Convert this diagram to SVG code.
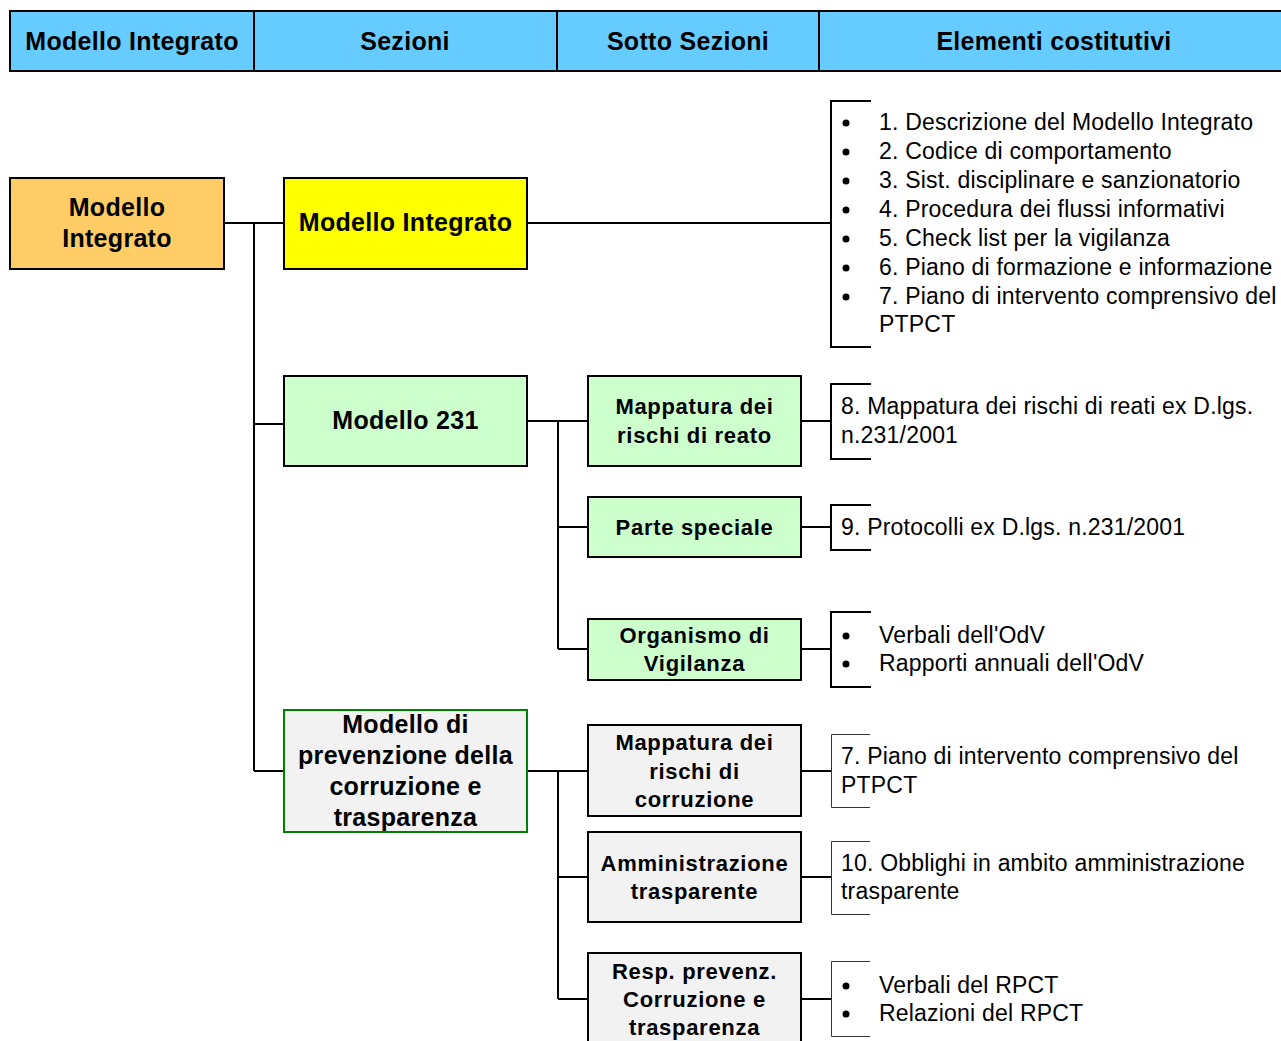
<svg xmlns="http://www.w3.org/2000/svg" width="1281" height="1041" viewBox="0 0 1281 1041">
<style>
.hd{fill:#66CCFF;stroke:#000;stroke-width:2}
.ht{font-family:"Liberation Sans",Arial,sans-serif;font-weight:bold;font-size:25px;letter-spacing:0.3px;text-anchor:middle;fill:#000}
.bx{stroke:#000;stroke-width:2}
.t1{font-family:"Liberation Sans",Arial,sans-serif;font-weight:bold;font-size:25px;letter-spacing:0.3px;text-anchor:middle;fill:#000}
.t2{font-family:"Liberation Sans",Arial,sans-serif;font-weight:bold;font-size:22px;letter-spacing:0.7px;text-anchor:middle;fill:#000}
.el{font-family:"Liberation Sans",Arial,sans-serif;font-size:23px;letter-spacing:0.2px;fill:#000}
.cn{fill:none;stroke:#000;stroke-width:2}
.br{fill:none;stroke:#000;stroke-width:2}
.bt{fill:none;stroke:#333;stroke-width:1}
</style>
<rect width="1281" height="1041" fill="#fff"/>
<g id="header">
<rect class="hd" x="10" y="11" width="244" height="60"/>
<rect class="hd" x="254" y="11" width="303" height="60"/>
<rect class="hd" x="557" y="11" width="262" height="60"/>
<rect class="hd" x="819" y="11" width="480" height="60"/>
<text class="ht" x="132" y="50">Modello Integrato</text>
<text class="ht" x="405" y="50">Sezioni</text>
<text class="ht" x="688" y="50">Sotto Sezioni</text>
<text class="ht" x="1054" y="50">Elementi costitutivi</text>
</g>
<g id="connectors">
<path class="cn" d="M224 223H284M254 223V771M254 424H284M254 771H284"/>
<path class="cn" d="M527 223H831"/>
<path class="cn" d="M527 421H588M558 421V649M558 527H588M558 649H588"/>
<path class="cn" d="M527 771H588M558 771V999M558 877H588M558 999H588"/>
<path class="cn" d="M801 421H831M801 527H831M801 649H831M801 771H831M801 877H831M801 999H831"/>
</g>
<g id="root">
<rect class="bx" x="10" y="178" width="214" height="91" fill="#FFCC66"/>
<text class="t1" x="117" y="216">Modello</text>
<text class="t1" x="117" y="247">Integrato</text>
</g>
<g id="sez-integrato">
<rect class="bx" x="284" y="178" width="243" height="91" fill="#FFFF00"/>
<text class="t1" x="405.5" y="231">Modello Integrato</text>
</g>
<g id="sez-231">
<rect class="bx" x="284" y="376" width="243" height="90" fill="#CCFFCC"/>
<text class="t1" x="405.5" y="429">Modello 231</text>
</g>
<g id="sez-prev">
<rect x="284" y="710" width="243" height="122" fill="#F2F2F2" stroke="#008000" stroke-width="2"/>
<text class="t1" x="405.5" y="733">Modello di</text>
<text class="t1" x="405.5" y="764">prevenzione della</text>
<text class="t1" x="405.5" y="795">corruzione e</text>
<text class="t1" x="405.5" y="826">trasparenza</text>
</g>
<g id="sub-mapp-reato">
<rect class="bx" x="588" y="376" width="213" height="90" fill="#CCFFCC"/>
<text class="t2" x="694.5" y="414">Mappatura dei</text>
<text class="t2" x="694.5" y="443">rischi di reato</text>
</g>
<g id="sub-parte-speciale">
<rect class="bx" x="588" y="497" width="213" height="60" fill="#CCFFCC"/>
<text class="t2" x="694.5" y="535">Parte speciale</text>
</g>
<g id="sub-odv">
<rect class="bx" x="588" y="619" width="213" height="61" fill="#CCFFCC"/>
<text class="t2" x="694.5" y="643">Organismo di</text>
<text class="t2" x="694.5" y="671">Vigilanza</text>
</g>
<g id="sub-mapp-corr">
<rect class="bx" x="588" y="725" width="213" height="91" fill="#F2F2F2"/>
<text class="t2" x="694.5" y="750">Mappatura dei</text>
<text class="t2" x="694.5" y="779">rischi di</text>
<text class="t2" x="694.5" y="807">corruzione</text>
</g>
<g id="sub-amm">
<rect class="bx" x="588" y="832" width="213" height="90" fill="#F2F2F2"/>
<text class="t2" x="694.5" y="871">Amministrazione</text>
<text class="t2" x="694.5" y="899">trasparente</text>
</g>
<g id="sub-rpct">
<rect class="bx" x="588" y="953" width="213" height="100" fill="#F2F2F2"/>
<text class="t2" x="694.5" y="979">Resp. prevenz.</text>
<text class="t2" x="694.5" y="1007">Corruzione e</text>
<text class="t2" x="694.5" y="1035">trasparenza</text>
</g>
<g id="el-integrato">
<path class="br" d="M871 101H831V347H871"/>
<g fill="#000"><circle cx="846" cy="123" r="3.5"/><circle cx="846" cy="152" r="3.5"/><circle cx="846" cy="181" r="3.5"/><circle cx="846" cy="210" r="3.5"/><circle cx="846" cy="239" r="3.5"/><circle cx="846" cy="268" r="3.5"/><circle cx="846" cy="297" r="3.5"/></g>
<text class="el" x="879" y="130">1. Descrizione del Modello Integrato</text>
<text class="el" x="879" y="159">2. Codice di comportamento</text>
<text class="el" x="879" y="188">3. Sist. disciplinare e sanzionatorio</text>
<text class="el" x="879" y="217">4. Procedura dei flussi informativi</text>
<text class="el" x="879" y="246">5. Check list per la vigilanza</text>
<text class="el" x="879" y="275">6. Piano di formazione e informazione</text>
<text class="el" x="879" y="304">7. Piano di intervento comprensivo del</text>
<text class="el" x="879" y="332">PTPCT</text>
</g>
<g id="el-8">
<path class="br" d="M871 384H831V459H871"/>
<text class="el" x="841" y="414">8. Mappatura dei rischi di reati ex D.lgs.</text>
<text class="el" x="841" y="443">n.231/2001</text>
</g>
<g id="el-9">
<path class="br" d="M871 505H831V550H871"/>
<text class="el" x="841" y="535">9. Protocolli ex D.lgs. n.231/2001</text>
</g>
<g id="el-odv">
<path class="br" d="M871 612H831V687H871"/>
<circle cx="846" cy="636" r="3.5"/><circle cx="846" cy="664" r="3.5"/>
<text class="el" x="879" y="643">Verbali dell'OdV</text>
<text class="el" x="879" y="671">Rapporti annuali dell'OdV</text>
</g>
<g id="el-7">
<path class="bt" d="M870 734.5H831.5V807.5H870"/>
<text class="el" x="841" y="764">7. Piano di intervento comprensivo del</text>
<text class="el" x="841" y="793">PTPCT</text>
</g>
<g id="el-10">
<path class="bt" d="M870 841.5H831.5V914.5H870"/>
<text class="el" x="841" y="871">10. Obblighi in ambito amministrazione</text>
<text class="el" x="841" y="899">trasparente</text>
</g>
<g id="el-rpct">
<path class="bt" d="M870 961.5H831.5V1036.5H870"/>
<circle cx="846" cy="986" r="3.5"/><circle cx="846" cy="1014" r="3.5"/>
<text class="el" x="879" y="993">Verbali del RPCT</text>
<text class="el" x="879" y="1021">Relazioni del RPCT</text>
</g>
</svg>
